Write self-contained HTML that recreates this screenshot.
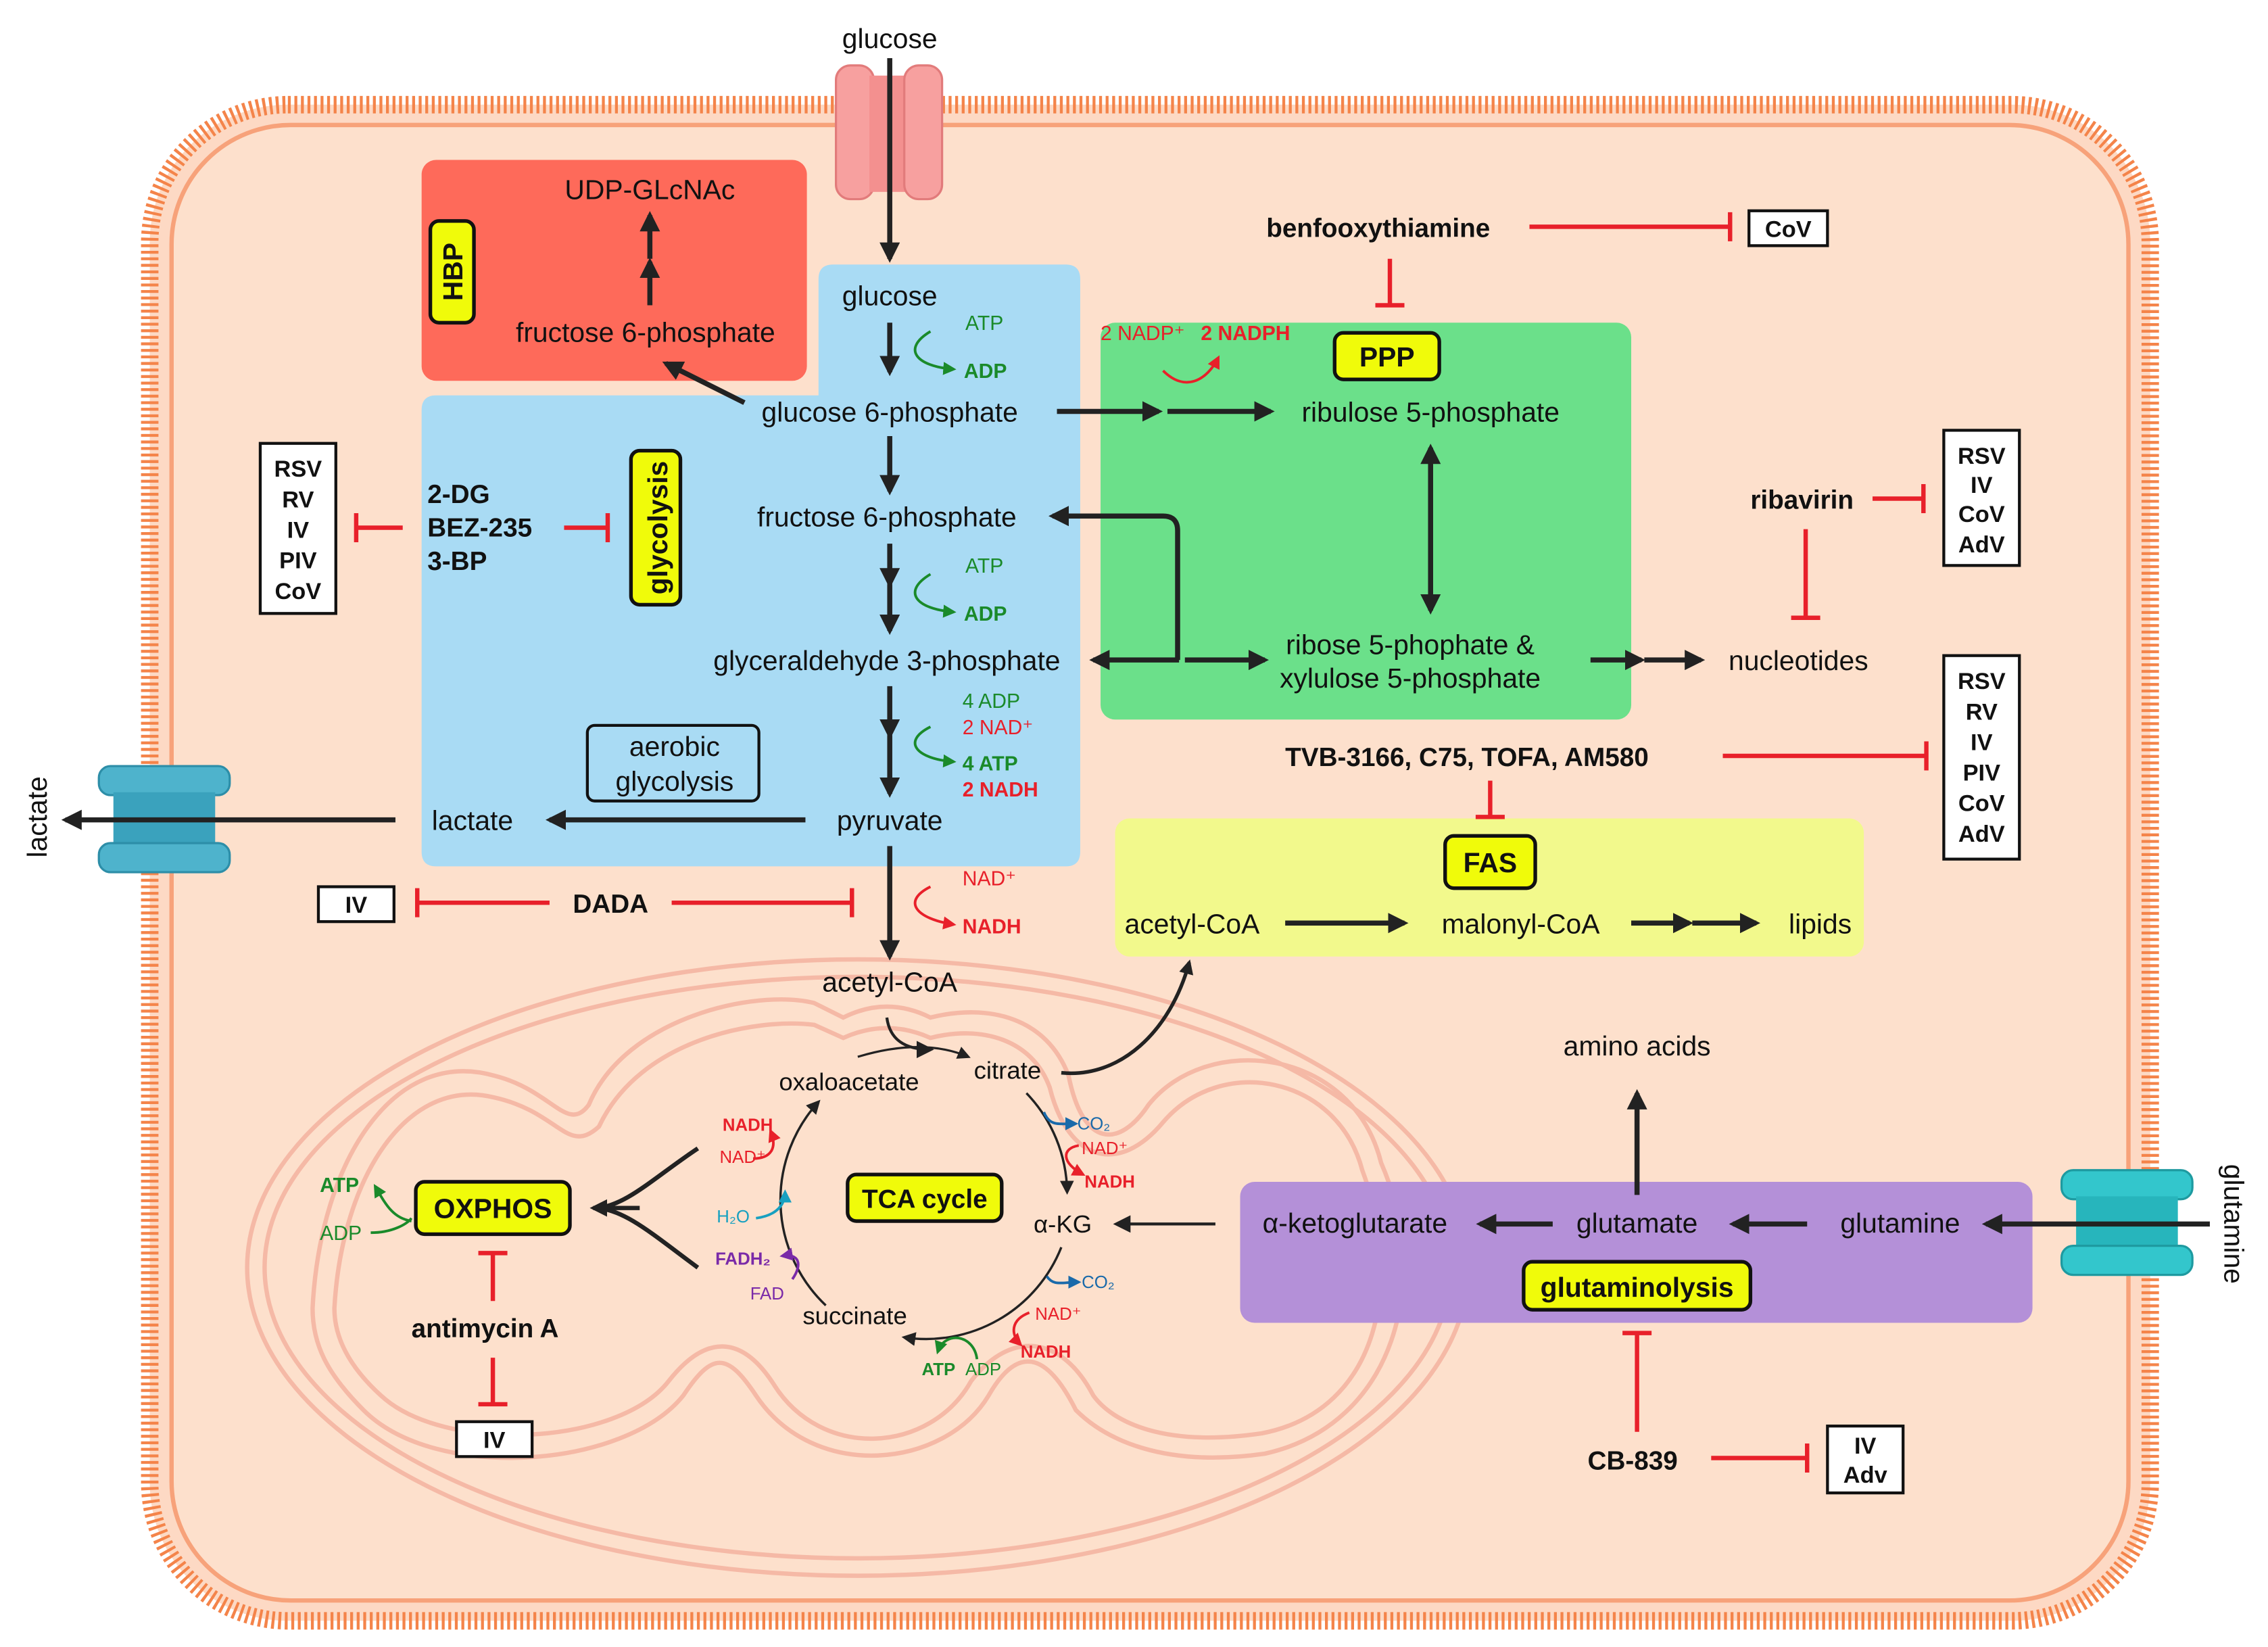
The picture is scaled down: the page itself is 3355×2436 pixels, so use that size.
<!DOCTYPE html>
<html><head><meta charset="utf-8"><style>
html,body{margin:0;padding:0;background:#fff}
svg{display:block}
text{font-family:"Liberation Sans",Arial,sans-serif}
</style></head><body>
<svg width="3355" height="2436" viewBox="0 0 1560 1133" preserveAspectRatio="none" xmlns="http://www.w3.org/2000/svg">
<defs>
<marker id="a" viewBox="0 0 10 10" refX="8" refY="5" markerWidth="4" markerHeight="4" orient="auto-start-reverse"><path d="M0,0L10,5L0,10z" fill="#222"/></marker>
<marker id="as" viewBox="0 0 10 10" refX="8" refY="5" markerWidth="6" markerHeight="6" orient="auto"><path d="M0,0L10,5L0,10z" fill="#222"/></marker>
<marker id="ag" viewBox="0 0 10 10" refX="8" refY="5" markerWidth="5" markerHeight="5" orient="auto"><path d="M0,0L10,5L0,10z" fill="#1a8a2a"/></marker>
<marker id="ar" viewBox="0 0 10 10" refX="8" refY="5" markerWidth="5" markerHeight="5" orient="auto"><path d="M0,0L10,5L0,10z" fill="#e8202a"/></marker>
<marker id="ab" viewBox="0 0 10 10" refX="8" refY="5" markerWidth="5" markerHeight="5" orient="auto"><path d="M0,0L10,5L0,10z" fill="#1a6aaa"/></marker>
<marker id="ac" viewBox="0 0 10 10" refX="8" refY="5" markerWidth="5" markerHeight="5" orient="auto"><path d="M0,0L10,5L0,10z" fill="#17a0c0"/></marker>
<marker id="ap" viewBox="0 0 10 10" refX="8" refY="5" markerWidth="5" markerHeight="5" orient="auto"><path d="M0,0L10,5L0,10z" fill="#7a2aa8"/></marker>
</defs>
<rect width="1560" height="1133" fill="#fff"/>
<rect x="103" y="72" width="1376" height="1043" rx="95" fill="#fdd9c4" stroke="#f4844a" stroke-width="12" stroke-dasharray="2 2.5"/>
<rect x="118" y="86" width="1346" height="1015" rx="82" fill="#fde0cc" stroke="#f7a27a" stroke-width="3"/>
<g fill="none" stroke="#f5b9a6" stroke-width="3">
<ellipse cx="590" cy="872" rx="420" ry="212"/>
<ellipse cx="590" cy="872" rx="408" ry="200"/>
<path d="M215,900 C220,800 270,720 340,740 C380,750 390,780 405,760 C430,700 520,680 560,690 L580,700 C600,690 620,690 640,700 C680,690 720,700 735,740 C745,790 770,790 790,760 C830,710 930,720 950,800 C985,880 960,980 870,1000 C800,1010 760,990 740,970 C720,930 700,925 680,960 C650,1010 560,1020 520,960 C500,930 490,930 470,960 C430,1010 300,1020 250,970 C225,945 215,925 215,900Z"/>
<path d="M230,900 C235,810 280,740 340,755 C385,765 390,795 412,775 C440,715 520,700 560,705 L580,714 C600,705 620,705 640,714 C675,705 710,715 722,748 C735,800 770,808 800,772 C840,725 920,740 937,805 C965,880 950,970 868,986 C800,996 765,978 752,960 C730,918 695,915 668,950 C640,1000 565,1005 532,952 C510,918 485,918 460,950 C425,995 305,1000 262,960 C240,940 230,920 230,900Z"/>
</g>
<rect x="290" y="110" width="265" height="152" rx="10" fill="#fe6a5a"/>
<path d="M573,182 H733 Q743,182 743,192 V586 Q743,596 733,596 H300 Q290,596 290,586 V282 Q290,272 300,272 H563 V192 Q563,182 573,182Z" fill="#a9dbf4"/>
<rect x="757" y="222" width="365" height="273" rx="10" fill="#6be08a"/>
<rect x="767" y="563" width="515" height="95" rx="10" fill="#f2f98c"/>
<rect x="853" y="813" width="545" height="97" rx="10" fill="#b490d8"/>
<g>
<rect x="575" y="45" width="26" height="92" rx="10" fill="#f7a09f" stroke="#e27b7b" stroke-width="1.5"/>
<rect x="598" y="52" width="26" height="80" fill="#f3908f"/>
<rect x="622" y="45" width="26" height="92" rx="10" fill="#f7a09f" stroke="#e27b7b" stroke-width="1.5"/>
</g>
<rect x="68" y="527" width="90" height="20" rx="8" fill="#4eb3cc" stroke="#2d8ea8" stroke-width="1.5"/>
<rect x="78" y="545" width="70" height="36" fill="#3aa2bd"/>
<rect x="68" y="580" width="90" height="20" rx="8" fill="#4eb3cc" stroke="#2d8ea8" stroke-width="1.5"/>
<rect x="1418" y="805" width="90" height="20" rx="8" fill="#33c6cc" stroke="#1e9aa0" stroke-width="1.5"/>
<rect x="1428" y="823" width="70" height="36" fill="#27b5bc"/>
<rect x="1418" y="857" width="90" height="20" rx="8" fill="#33c6cc" stroke="#1e9aa0" stroke-width="1.5"/>

<g font-size="19" fill="#111" text-anchor="middle">
<text x="612" y="33">glucose</text>
<text x="447" y="137">UDP-GLcNAc</text>
<text x="444" y="235">fructose 6-phosphate</text>
<text x="612" y="210">glucose</text>
<text x="612" y="290">glucose 6-phosphate</text>
<text x="610" y="362">fructose 6-phosphate</text>
<text x="610" y="461">glyceraldehyde 3-phosphate</text>
<text x="612" y="571">pyruvate</text>
<text x="325" y="571">lactate</text>
<text x="984" y="290">ribulose 5-phosphate</text>
<text x="970" y="450">ribose 5-phophate &amp;</text>
<text x="970" y="473">xylulose 5-phosphate</text>
<text x="1237" y="461">nucleotides</text>
<text x="820" y="642">acetyl-CoA</text>
<text x="1046" y="642">malonyl-CoA</text>
<text x="1252" y="642">lipids</text>
<text x="612" y="682">acetyl-CoA</text>
<text x="1126" y="726">amino acids</text>
<text x="584" y="750" font-size="17">oxaloacetate</text>
<text x="693" y="742" font-size="17">citrate</text>
<text x="731" y="848" font-size="17">α-KG</text>
<text x="588" y="911" font-size="17">succinate</text>
<text x="932" y="848">α-ketoglutarate</text>
<text x="1126" y="848">glutamate</text>
<text x="1307" y="848">glutamine</text>
<text x="464" y="520">aerobic</text>
<text x="464" y="544">glycolysis</text>
</g>
<text transform="translate(32,562) rotate(-90)" font-size="19" text-anchor="middle" fill="#111">lactate</text>
<text transform="translate(1530,842) rotate(90)" font-size="19" text-anchor="middle" fill="#111">glutamine</text>
<rect x="404" y="499" width="118" height="52" rx="5" fill="none" stroke="#111" stroke-width="2"/>

<g stroke="#111" stroke-width="2.5" fill="#f0fb0a">
<rect x="296" y="152" width="30" height="70" rx="6"/>
<rect x="434" y="310" width="34" height="106" rx="6"/>
<rect x="918" y="229" width="72" height="32" rx="6"/>
<rect x="994" y="575" width="62" height="36" rx="6"/>
<rect x="286" y="813" width="106" height="36" rx="6"/>
<rect x="583" y="808" width="106" height="32" rx="6"/>
<rect x="1048" y="868" width="156" height="33" rx="6"/>
</g>
<g font-size="19" font-weight="bold" fill="#111" text-anchor="middle">
<text transform="translate(318,187) rotate(-90)">HBP</text>
<text transform="translate(459,363) rotate(-90)">glycolysis</text>
<text x="954" y="252">PPP</text>
<text x="1025" y="600">FAS</text>
<text x="339" y="838">OXPHOS</text>
<text x="636" y="831" font-size="18">TCA cycle</text>
<text x="1126" y="892">glutaminolysis</text>
</g>

<g stroke="#222" stroke-width="3.5" fill="none" marker-end="url(#a)">
<line x1="612" y1="40" x2="612" y2="178"/>
<line x1="612" y1="222" x2="612" y2="256"/>
<line x1="612" y1="300" x2="612" y2="338"/>
<line x1="612" y1="374" x2="612" y2="402"/>
<line x1="612" y1="402" x2="612" y2="434"/>
<line x1="612" y1="472" x2="612" y2="506"/>
<line x1="612" y1="506" x2="612" y2="546"/>
<line x1="612" y1="582" x2="612" y2="658"/>
<line x1="554" y1="564" x2="378" y2="564"/>
<line x1="272" y1="564" x2="45" y2="564"/>
<line x1="512" y1="277" x2="458" y2="250"/>
<line x1="447" y1="210" x2="447" y2="180"/>
<line x1="447" y1="178" x2="447" y2="148"/>
<line x1="727" y1="283" x2="797" y2="283"/>
<line x1="803" y1="283" x2="874" y2="283"/>
<line x1="815" y1="454" x2="870" y2="454"/>
<line x1="1094" y1="454" x2="1129" y2="454"/>
<line x1="1131" y1="454" x2="1170" y2="454"/>
<line x1="884" y1="635" x2="966" y2="635"/>
<line x1="1122" y1="635" x2="1162" y2="635"/>
<line x1="1164" y1="635" x2="1208" y2="635"/>
<line x1="1126" y1="822" x2="1126" y2="752"/>
<line x1="1068" y1="842" x2="1018" y2="842"/>
<line x1="1243" y1="842" x2="1192" y2="842"/>
<line x1="1520" y1="842" x2="1366" y2="842"/>
<path d="M810,454 V365 Q810,355 800,355 H724"/>
<line x1="811" y1="454" x2="752" y2="454"/>
<line x1="984" y1="360" x2="984" y2="420"/>
<line x1="984" y1="360" x2="984" y2="308"/>
</g>
<g stroke="#222" stroke-width="2" fill="none">
<path d="M836,842 H768" marker-end="url(#as)"/>
<path d="M730,738 C770,742 805,710 818,662" stroke-width="2.5" marker-end="url(#a)"/>
<path d="M610,700 C612,715 622,722 640,722" marker-end="url(#as)"/>
<path d="M590,727 C620,718 645,718 666,727" stroke-width="1.5" marker-end="url(#as)"/>
<path d="M706,752 A100,100 0 0 1 734,820" stroke-width="1.6" marker-end="url(#as)"/>
<path d="M730,858 A100,100 0 0 1 622,920" stroke-width="1.6" marker-end="url(#as)"/>
<path d="M568,898 A100,100 0 0 1 563,758" stroke-width="1.6" marker-end="url(#as)"/>
<path d="M480,790 C450,810 430,830 410,831" stroke-width="3"/>
<path d="M480,872 C450,850 430,832 410,831" stroke-width="3"/>
<path d="M440,831 H408" stroke-width="3" marker-end="url(#a)"/>
</g>
<g fill="none" stroke-width="1.8">
<path d="M640,228 C620,240 630,252 656,254" stroke="#1a8a2a" marker-end="url(#ag)"/>
<path d="M640,395 C620,407 630,419 656,421" stroke="#1a8a2a" marker-end="url(#ag)"/>
<path d="M640,500 C620,510 630,522 656,524" stroke="#1a8a2a" marker-end="url(#ag)"/>
<path d="M640,610 C620,620 630,632 656,636" stroke="#e8202a" marker-end="url(#ar)"/>
<path d="M800,255 C815,270 830,262 838,246" stroke="#e8202a" marker-end="url(#ar)"/>
<path d="M283,840 C270,838 265,828 258,816" stroke="#1a8a2a" marker-end="url(#ag)"/>
<path d="M255,848 C270,848 280,842 283,838" stroke="#1a8a2a"/>
<path d="M718,765 C722,775 728,773 740,773" stroke="#1a6aaa" marker-end="url(#ab)"/>
<path d="M742,788 C730,790 730,800 745,808" stroke="#e8202a" marker-end="url(#ar)"/>
<path d="M720,878 C725,885 730,882 742,882" stroke="#1a6aaa" marker-end="url(#ab)"/>
<path d="M708,903 C695,908 695,918 702,925" stroke="#e8202a" marker-end="url(#ar)"/>
<path d="M672,935 C670,918 650,915 645,930" stroke="#1a8a2a" marker-end="url(#ag)"/>
<path d="M518,797 C530,797 535,790 530,778" stroke="#e8202a" marker-end="url(#ar)"/>
<path d="M520,838 C535,836 540,828 540,820" stroke="#17a0c0" marker-end="url(#ac)"/>
<path d="M545,880 C552,870 550,862 538,864" stroke="#7a2aa8" marker-end="url(#ap)"/>
</g>
<g font-size="14" text-anchor="start">
<text x="664" y="227" fill="#1a8a2a">ATP</text>
<text x="663" y="260" fill="#1a8a2a" font-weight="bold">ADP</text>
<text x="664" y="394" fill="#1a8a2a">ATP</text>
<text x="663" y="427" fill="#1a8a2a" font-weight="bold">ADP</text>
<text x="662" y="487" fill="#1a8a2a">4 ADP</text>
<text x="662" y="505" fill="#e8202a">2 NAD⁺</text>
<text x="662" y="530" fill="#1a8a2a" font-weight="bold">4 ATP</text>
<text x="662" y="548" fill="#e8202a" font-weight="bold">2 NADH</text>
<text x="662" y="609" fill="#e8202a">NAD⁺</text>
<text x="662" y="642" fill="#e8202a" font-weight="bold">NADH</text>
<text x="757" y="234" fill="#e8202a">2 NADP⁺</text>
<text x="826" y="234" fill="#e8202a" font-weight="bold">2 NADPH</text>
<text x="220" y="820" fill="#1a8a2a" font-weight="bold">ATP</text>
<text x="220" y="853" fill="#1a8a2a">ADP</text>
<g font-size="12">
<text x="741" y="777" fill="#1a6aaa">CO₂</text>
<text x="744" y="794" fill="#e8202a">NAD⁺</text>
<text x="746" y="817" fill="#e8202a" font-weight="bold">NADH</text>
<text x="744" y="886" fill="#1a6aaa">CO₂</text>
<text x="712" y="908" fill="#e8202a">NAD⁺</text>
<text x="702" y="934" fill="#e8202a" font-weight="bold">NADH</text>
<text x="634" y="946" fill="#1a8a2a" font-weight="bold">ATP</text>
<text x="664" y="946" fill="#1a8a2a">ADP</text>
<text x="497" y="778" fill="#e8202a" font-weight="bold">NADH</text>
<text x="495" y="800" fill="#e8202a">NAD⁺</text>
<text x="493" y="841" fill="#17a0c0">H₂O</text>
<text x="492" y="870" fill="#7a2aa8" font-weight="bold">FADH₂</text>
<text x="516" y="894" fill="#7a2aa8">FAD</text>
</g>
</g>

<g font-size="18" font-weight="bold" fill="#111">
<text x="871" y="163">benfooxythiamine</text>
<text x="1204" y="350">ribavirin</text>
<text x="884" y="527">TVB-3166, C75, TOFA, AM580</text>
<text x="294" y="346">2-DG</text>
<text x="294" y="369">BEZ-235</text>
<text x="294" y="392">3-BP</text>
<text x="394" y="628">DADA</text>
<text x="283" y="920">antimycin A</text>
<text x="1092" y="1011">CB-839</text>
</g>
<g fill="#fff" stroke="#111" stroke-width="2">
<rect x="179" y="305" width="52" height="117"/>
<rect x="1337" y="296" width="52" height="93"/>
<rect x="1337" y="451" width="52" height="140"/>
<rect x="1203" y="145" width="54" height="24"/>
<rect x="219" y="610" width="52" height="24"/>
<rect x="314" y="978" width="52" height="24"/>
<rect x="1257" y="981" width="52" height="46"/>
</g>
<g font-size="16" font-weight="bold" fill="#111" text-anchor="middle">
<text x="205" y="328">RSV</text><text x="205" y="349">RV</text><text x="205" y="370">IV</text><text x="205" y="391">PIV</text><text x="205" y="412">CoV</text>
<text x="1363" y="319">RSV</text><text x="1363" y="339">IV</text><text x="1363" y="359">CoV</text><text x="1363" y="380">AdV</text>
<text x="1363" y="474">RSV</text><text x="1363" y="495">RV</text><text x="1363" y="516">IV</text><text x="1363" y="537">PIV</text><text x="1363" y="558">CoV</text><text x="1363" y="579">AdV</text>
<text x="1230" y="163">CoV</text>
<text x="245" y="628">IV</text>
<text x="340" y="996">IV</text>
<text x="1283" y="1000">IV</text><text x="1283" y="1020">Adv</text>
</g>
<g stroke="#e8202a" stroke-width="3" fill="none">
<path d="M1052,156 H1190 M1190,146 V166"/>
<path d="M956,178 V210 M946,210 H966"/>
<path d="M1288,343 H1323 M1323,333 V353"/>
<path d="M1242,364 V425 M1232,425 H1252"/>
<path d="M1185,520 H1325 M1325,510 V530"/>
<path d="M1025,537 V562 M1015,562 H1035"/>
<path d="M277,363 H245 M245,353 V373"/>
<path d="M388,363 H418 M418,353 V373"/>
<path d="M378,621 H287 M287,611 V631"/>
<path d="M462,621 H586 M586,611 V631"/>
<path d="M339,895 V862 M329,862 H349"/>
<path d="M339,934 V966 M329,966 H349"/>
<path d="M1126,985 V917 M1116,917 H1136"/>
<path d="M1177,1003 H1243 M1243,993 V1013"/>
</g>
</svg>
</body></html>
